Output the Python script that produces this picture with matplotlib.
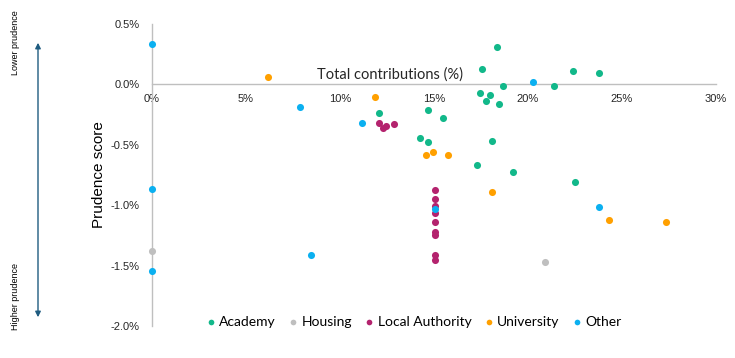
import matplotlib
matplotlib.use('Agg')
import matplotlib.pyplot as plt
from matplotlib.ticker import FuncFormatter

# values are in percent
academy_x = [18.37, 17.54, 22.37, 23.78, 18.65, 21.37, 17.45, 17.98, 17.75, 18.46,
             12.06, 14.66, 15.46, 14.26, 14.66, 18.07, 17.27, 19.2, 22.48]
academy_y = [0.307, 0.13, 0.11, 0.094, -0.015, -0.017, -0.074, -0.087, -0.14, -0.163,
             -0.238, -0.213, -0.28, -0.446, -0.479, -0.47, -0.67, -0.728, -0.811]

housing_x = [0, 20.88]
housing_y = [-1.376, -1.467]

la_x = [12.07, 12.3, 12.43, 12.86, 15.04, 15.04, 15.04, 15.04, 15.04, 15.04, 15.04, 15.04, 15.04]
la_y = [-0.318, -0.36, -0.346, -0.33, -0.878, -0.95, -1.01, -1.062, -1.135, -1.22, -1.248, -1.412, -1.453]

uni_x = [6.15, 11.86, 14.56, 14.95, 15.73, 18.07, 24.29, 27.32]
uni_y = [0.06, -0.105, -0.581, -0.562, -0.587, -0.894, -1.119, -1.143]

other_x = [0, 0, 0, 7.87, 11.15, 20.25, 8.44, 15.04, 23.76]
other_y = [0.335, -0.863, -1.542, -0.183, -0.322, 0.016, -1.412, -1.035, -1.019]

series = [
    ('Academy', academy_x, academy_y, '#12B88A'),
    ('Housing', housing_x, housing_y, '#BFBFBF'),
    ('Local Authority', la_x, la_y, '#B4236E'),
    ('University', uni_x, uni_y, '#FFA000'),
    ('Other', other_x, other_y, '#0BB0F0'),
]

fig = plt.figure(figsize=(7.35, 3.58), dpi=100)
ax = fig.add_axes([152 / 735, 32 / 358, 564 / 735, 302 / 358])

for name, xs, ys, col in series:
    ax.scatter(xs, ys, s=26, color=col, label=name, linewidths=0, zorder=3, clip_on=False)

ax.set_xlim(0, 30)
ax.set_ylim(-2.0, 0.5)
ax.set_xticks([0, 5, 10, 15, 20, 25, 30])
ax.set_yticks([-2.0, -1.5, -1.0, -0.5, 0.0, 0.5])
ax.xaxis.set_major_formatter(FuncFormatter(lambda v, p: '%d%%' % v))
ax.yaxis.set_major_formatter(FuncFormatter(lambda v, p: '%.1f%%' % v))

for s in ['top', 'right']:
    ax.spines[s].set_visible(False)
ax.spines['bottom'].set_position(('data', 0))
ax.spines['bottom'].set_color('#BFBFBF')
ax.spines['left'].set_color('#BFBFBF')
ax.spines['bottom'].set_linewidth(1)
ax.spines['left'].set_linewidth(1)
ax.tick_params(axis='both', length=0, labelsize=8, labelcolor='#262626')
ax.tick_params(axis='y', pad=9)
ax.tick_params(axis='x', pad=7)
for lbl in ax.get_xticklabels() + ax.get_yticklabels():
    lbl.set_family('Liberation Sans')

ax.set_ylabel('Prudence score', fontsize=11, family='Liberation Sans', labelpad=3)
ax.text(12.66, 0.083, 'Total contributions (%)', ha='center', va='center',
        fontsize=10.5, family='Lato', color='#262626')

leg = ax.legend(loc='center', bbox_to_anchor=(0.465, 0.013), ncol=5, frameon=False,
                handlelength=0.5, handletextpad=0.35, columnspacing=1.0, markerscale=0.8,
                borderaxespad=0, prop={'family': 'Lato', 'size': 10})

# prudence arrow on the far left
fig.patches.append(matplotlib.patches.FancyArrowPatch(
    (38 / 735, 1 - 320 / 358), (38 / 735, 1 - 40 / 358), transform=fig.transFigure,
    arrowstyle='<|-|>', mutation_scale=8, color='#1F5C80', lw=1))
fig.text(16 / 735, 1 - 43 / 358, 'Lower prudence', rotation=90, ha='center', va='center',
         fontsize=6.5, family='Liberation Sans')
fig.text(16 / 735, 1 - 297 / 358, 'Higher prudence', rotation=90, ha='center', va='center',
         fontsize=6.5, family='Liberation Sans')

fig.savefig('out.png', dpi=100)
